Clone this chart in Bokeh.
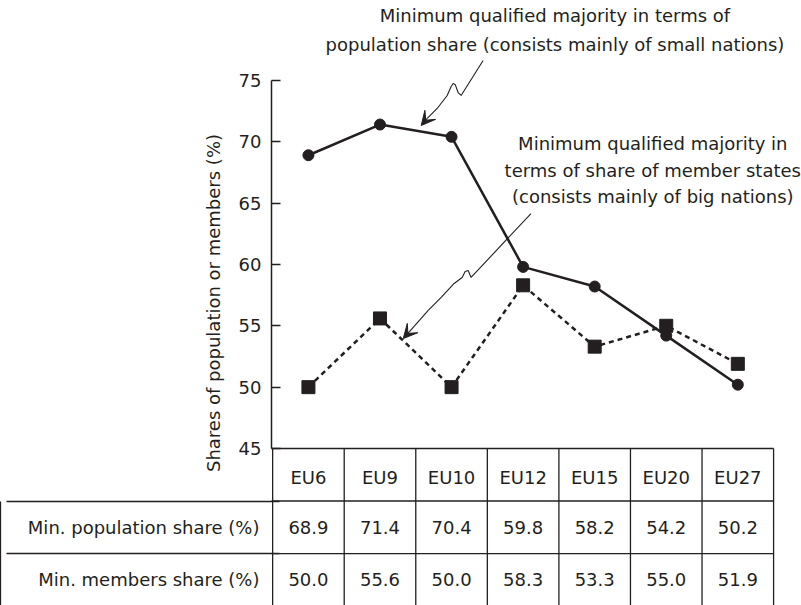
from bokeh.plotting import figure
from bokeh.models import Range1d, FixedTicker, Arrow, VeeHead, LinearAxis
from bokeh.embed import file_html
from bokeh.resources import INLINE
from bokeh.core.properties import value

# ---------------- data ----------------
categories = ["EU6", "EU9", "EU10", "EU12", "EU15", "EU20", "EU27"]
pop_share = [68.9, 71.4, 70.4, 59.8, 58.2, 54.2, 50.2]
mem_share = [50.0, 55.6, 50.0, 58.3, 53.3, 55.0, 51.9]
y_ticks = [45, 50, 55, 60, 65, 70, 75]
row_labels = ["Min. population share (%)", "Min. members share (%)"]
y_title = "Shares of population or members (%)"

ann1_lines = ["Minimum qualified majority in terms of",
              "population share (consists mainly of small nations)"]
ann2_lines = ["Minimum qualified majority in",
              "terms of share of member states",
              "(consists mainly of big nations)"]

# annotation anchor positions (data units)
ann1_x, ann1_y = 3.445, [80.29, 77.93]
ann2_x, ann2_y = 4.812, [69.86, 67.66, 65.54]
arrow1_x = [2.441, 2.134, 2.092, 2.050, 2.022, 1.994, 1.939, 1.799, 1.660, 1.576]
arrow1_y = [76.62, 73.77, 74.01, 74.67, 74.75, 74.50, 73.77, 72.71, 71.90, 71.32]
arrow2_x = [3.110, 2.273, 2.232, 2.190, 2.148, 2.036, 1.855, 1.674, 1.325]
arrow2_y = [64.15, 58.94, 59.51, 59.43, 58.94, 58.45, 57.31, 56.25, 53.96]

# table geometry (data units, below the y axis floor)
table_top = 45.0
row_h = 4.28

INK = "#231f20"
FONT = "DejaVu Sans"
FS = "18px"

n = len(categories)
xs = list(range(n))
y_lo, y_hi = 32.205, 81.51

p = figure(width=801, height=605, output_backend="svg", toolbar_location=None,
           x_range=Range1d(-0.516, 6.890), y_range=Range1d(y_lo, y_hi),
           x_axis_location=None, y_axis_location="left",
           min_border_left=270, min_border_right=0, min_border_top=0,
           min_border_bottom=0, outline_line_color=None)
p.grid.visible = False

# main value axis
ax = p.yaxis[0]
ax.bounds = (45, 75)
ax.ticker = FixedTicker(ticks=y_ticks)
ax.minor_tick_line_color = None
ax.major_tick_in = 9
ax.major_tick_out = 0
ax.major_tick_line_width = 1.3
ax.major_tick_line_color = INK
ax.axis_line_color = INK
ax.axis_line_width = 1.5
ax.major_label_standoff = 10
ax.major_label_text_font = FONT
ax.major_label_text_font_size = FS
ax.major_label_text_color = INK
ax.axis_label = y_title
ax.axis_label_text_font = FONT
ax.axis_label_text_font_size = FS
ax.axis_label_text_font_style = "normal"
ax.axis_label_text_color = INK
ax.axis_label_standoff = 12

# table row-label axis (stacked outside the value axis); its minor ticks draw
# the row rules of the label column
row_bounds = [table_top - k * row_h for k in range(4)]
centers = [table_top - (k + 0.5) * row_h for k in range(3)]
row_axis = LinearAxis(bounds=(y_lo, table_top),
                      ticker=FixedTicker(ticks=centers[1:], minor_ticks=row_bounds[1:3]),
                      major_label_overrides={c: t for c, t in zip(centers[1:], row_labels)},
                      axis_line_color=None, major_tick_line_color=None,
                      major_tick_in=0, major_tick_out=0,
                      minor_tick_line_color=INK, minor_tick_line_width=1.3,
                      minor_tick_out=193, minor_tick_in=80,
                      major_label_standoff=-253,
                      major_label_text_font=FONT, major_label_text_font_size=FS,
                      major_label_text_color=INK,
                      axis_label="\u00a0", axis_label_text_font_size="2px",
                      axis_label_standoff=19)
p.add_layout(row_axis, "left")

# outer edge of the label column
edge_axis = LinearAxis(bounds=(y_lo, row_bounds[1]), ticker=FixedTicker(ticks=[]),
                       axis_line_color=INK, axis_line_width=1.3,
                       major_tick_line_color=None, minor_tick_line_color=None,
                       major_tick_in=0, major_tick_out=0, minor_tick_in=0, minor_tick_out=0,
                       major_label_standoff=0, major_label_text_font_size="0px")
p.add_layout(edge_axis, "left")

# ---------------- series ----------------
p.line(xs, pop_share, line_width=2.5, color=INK)
p.scatter(xs, pop_share, marker="circle", size=11, color=INK)
p.line(xs, mem_share, line_width=2.5, line_dash="5 4", color=INK)
p.scatter(xs, mem_share, marker="square", size=13, color=INK)

# ---------------- annotations ----------------
p.text(x=[ann1_x] * len(ann1_lines), y=ann1_y, text=ann1_lines,
       text_align="center", text_baseline="middle",
       text_font=value(FONT), text_font_size=FS, text_color=INK)
p.text(x=[ann2_x] * len(ann2_lines), y=ann2_y, text=ann2_lines,
       text_align="center", text_baseline="middle",
       text_font=value(FONT), text_font_size=FS, text_color=INK)

for axs, ays in ((arrow1_x, arrow1_y), (arrow2_x, arrow2_y)):
    p.line(axs[:-1], ays[:-1], line_width=1.1, color=INK)
    p.add_layout(Arrow(end=VeeHead(size=14, fill_color=INK, line_color=INK, line_width=1),
                       x_start=axs[-2], y_start=ays[-2], x_end=axs[-1], y_end=ays[-1],
                       line_width=1.1, line_color=INK))

# ---------------- table ----------------
bounds_x = [i - 0.5 for i in range(n + 1)]
bottom = row_bounds[-1] - 1
p.segment(x0=bounds_x, y0=[table_top] * len(bounds_x), x1=bounds_x, y1=[bottom] * len(bounds_x),
          line_color=INK, line_width=1.3)
p.segment(x0=[-0.6] * 3, y0=row_bounds[:3], x1=[n - 0.5] * 3, y1=row_bounds[:3],
          line_color=INK, line_width=1.3)

p.text(x=xs, y=[centers[0] - 0.2] * n, text=categories, text_align="center", text_baseline="middle",
       text_font=value(FONT), text_font_size=FS, text_color=INK)
p.text(x=xs, y=[centers[1]] * n, text=[f"{v:.1f}" for v in pop_share], text_align="center",
       text_baseline="middle", text_font=value(FONT), text_font_size=FS, text_color=INK)
p.text(x=xs, y=[centers[2]] * n, text=[f"{v:.1f}" for v in mem_share], text_align="center",
       text_baseline="middle", text_font=value(FONT), text_font_size=FS, text_color=INK)

open("out.html", "w").write(file_html(p, INLINE))
